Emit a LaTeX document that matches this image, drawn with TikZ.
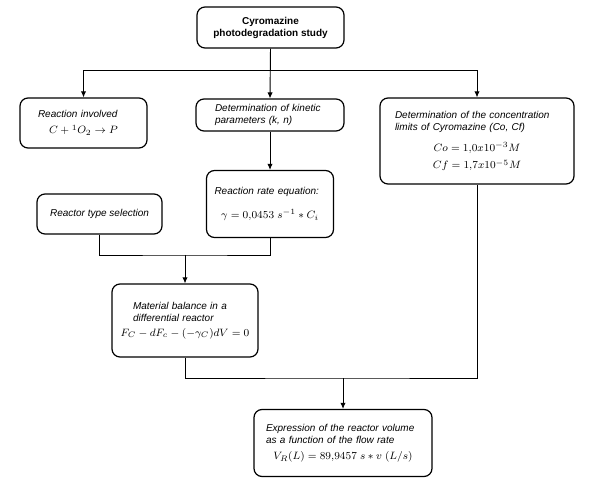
\documentclass[tikz,border=0pt]{standalone}
\usepackage{amsmath, amssymb}
\usepackage{fontspec}
\setmainfont{Liberation Sans}
\usepackage{tikz}
\usetikzlibrary{positioning}
\usetikzlibrary{arrows.meta}
\newcommand{\formula}[1]{\centerline{\fontsize{8.5}{10}\selectfont$#1$}}
\tikzset{stagebox/.style={draw, rounded corners=6pt, line width=0.9pt, align=left,
    font=\fontsize{7.5}{9}\selectfont\itshape, inner ysep=2pt}}
\tikzset{flow/.style={line width=0.7pt}}
\tikzset{flowarrow/.style={flow, -{Latex[length=4.5pt,width=4pt]}}}

\begin{document}
\begin{tikzpicture}[x=0.75pt, y=-0.75pt]
\useasboundingbox (0,0) rectangle (589,488);
% top box
\node[stagebox, align=center, font=\fontsize{7.5}{9}\selectfont\bfseries,
      minimum width=110.25pt, minimum height=30.75pt] (study) at (270.5,27.5)
      {Cyromazine\\photodegradation study};
% first row
\node[stagebox, minimum width=95.25pt, minimum height=37.5pt, inner xsep=13.5pt,
      text width=68.25pt] (involved) at (83.5,123)
      {Reaction involved\par\vspace{3pt}\formula{C + {}^{1}O_{2} \rightarrow P}};
\node[stagebox, minimum width=111pt, minimum height=24pt, inner xsep=14.25pt,
      text width=82.5pt] (kinetic) at (270,115)
      {Determination of kinetic\\parameters (k, n)};
\node[stagebox, minimum width=145.5pt, minimum height=64.5pt, inner xsep=11.25pt,
      text width=123pt] (limits) at (477,141)
      {Determination of the concentration\\limits of Cyromazine (Co, Cf)\par\vspace{7pt}%
       \formula{Co = 1{,}0x10^{-3}M}\par\vspace{4pt}%
       \formula{Cf = 1{,}7x10^{-5}M}};
% second row
\node[stagebox, minimum width=95.25pt, minimum height=50.25pt, inner xsep=6pt,
      text width=83.25pt] (rate) at (270,204)
      {Reaction rate equation:\par\vspace{9pt}%
       \formula{\gamma = 0{,}0453\; s^{-1} * C_{i}}};
\node[stagebox, align=center, minimum width=93.75pt, minimum height=30pt] (selection) at (99.5,214)
      {Reactor type selection};
% balance and volume
\node[stagebox, minimum width=109.5pt, minimum height=54.75pt, inner xsep=15.75pt,
      text width=78pt] (balance) at (185,320.5)
      {Material balance in a\\differential reactor\par\vspace{2pt}%
       \formula{F_{C} - dF_{c} - (-\gamma_{C})dV = 0}};
\node[stagebox, minimum width=133.5pt, minimum height=50.25pt, inner xsep=9pt,
      text width=115.5pt] (volume) at (343,443)
      {Expression of the reactor volume\\as a function of the flow rate\par\vspace{3pt}%
       \formula{V_{R}(L) = 89{,}9457\; s * v\;(L/s)}};
% junctions
\coordinate (split) at (study.south |- 0,70);
\coordinate (merge) at (balance.north |- 0,255);
\coordinate (merge2) at (volume.north |- 0,378);
% connectors
\draw[flowarrow] (study.south) -- (kinetic.north);
\draw[flowarrow] (split) -| (involved.north);
\draw[flowarrow] (split) -| (limits.north);
\draw[flowarrow] (kinetic.south) -- (rate.north);
\draw[flow] (selection.south) |- (merge) -| (rate.south);
\draw[flowarrow] (merge) -- (balance.north);
\draw[flow] (balance.south) |- (merge2) -| (limits.south);
\draw[flowarrow] (merge2) -- (volume.north);
\end{tikzpicture}
\end{document}
